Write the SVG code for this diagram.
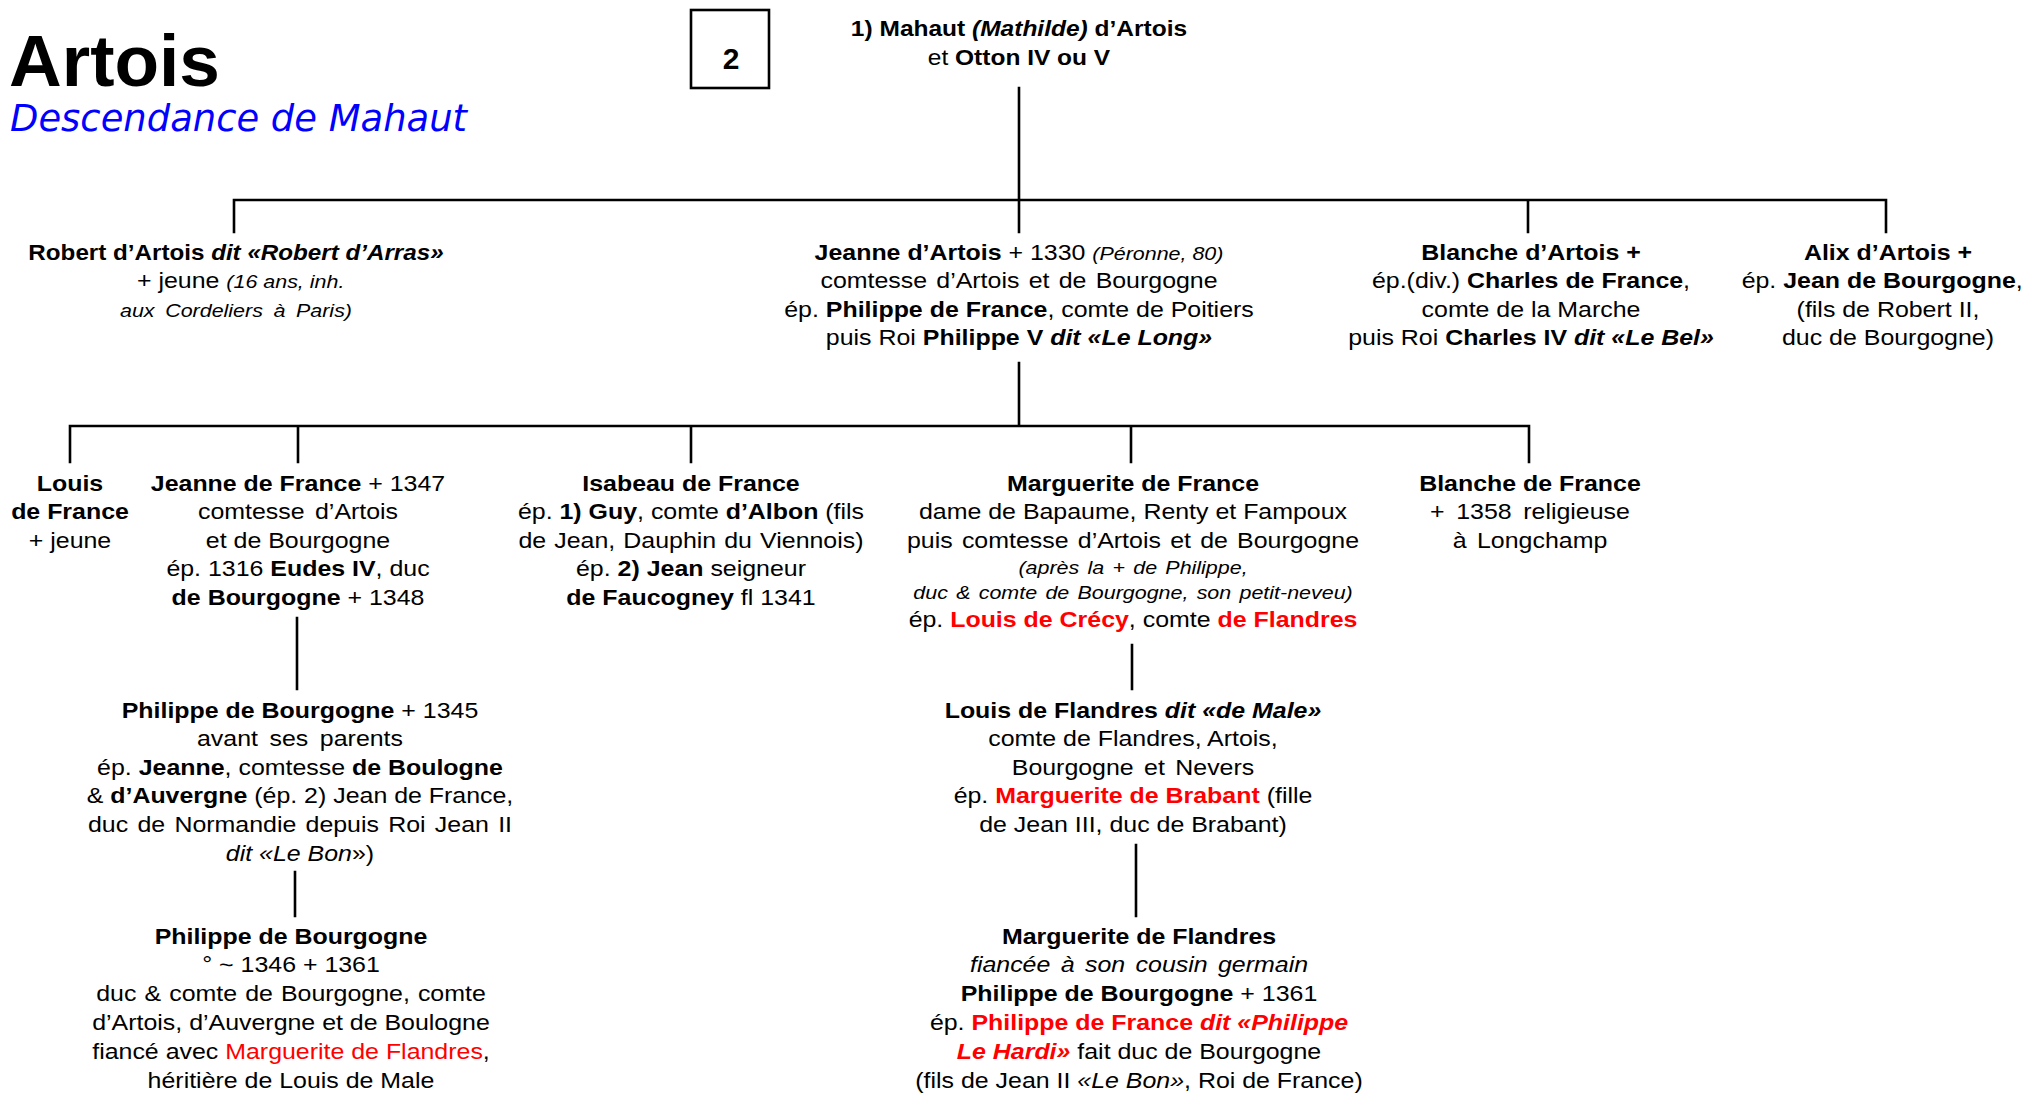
<svg xmlns="http://www.w3.org/2000/svg" width="2026" height="1093" viewBox="0 0 2026 1093">
<style>
text{font-family:"Liberation Sans",Arial,Helvetica,sans-serif;font-size:21.5px;fill:#000;text-anchor:middle}
.b{font-weight:bold}
.i{font-style:italic}
.s{font-size:18.5px}
.r{fill:#ff0000}
.ln{stroke:#000;stroke-width:2.6;fill:none;stroke-linecap:square}
.box{stroke:#000;stroke-width:2.6;fill:#fff}
</style>
<rect width="2026" height="1093" fill="#fff"/>

<g id="title">
<text x="9" y="86" class="b" style="font-size:73px;text-anchor:start">Artois</text>
<text x="10" y="131" class="i" style="font-family:'DejaVu Sans',Verdana,sans-serif;font-size:38px;fill:#0000ff;text-anchor:start" textLength="457" lengthAdjust="spacingAndGlyphs">Descendance de Mahaut</text>
</g>

<g id="page-number">
<rect class="box" x="691" y="10" width="78" height="78"/>
<text x="731" y="69" class="b" style="font-size:30px">2</text>
</g>

<g id="connectors">
<path class="ln" d="M1019,88V232M234,200H1886M234,200V232M1528,200V232M1886,200V232"/>
<path class="ln" d="M1019,363V426M70,426H1529M70,426V462M298,426V462M691,426V462M1131,426V462M1529,426V462"/>
<path class="ln" d="M297,618V689M295,872V916M1132,645V689M1136,845V916"/>
</g>

<g id="n-mahaut" transform="translate(1019,0) scale(1.14,1)">
<text x="0" y="36" class="b">1) Mahaut <tspan class="i">(Mathilde)</tspan> d’Artois</text>
<text x="0" y="65">et <tspan class="b">Otton IV ou V</tspan></text>
</g>

<g id="n-robert" transform="translate(236,0) scale(1.16,1)">
<text x="0" y="260" class="b" textLength="358" lengthAdjust="spacingAndGlyphs">Robert d’Artois <tspan class="i">dit «Robert d’Arras»</tspan></text>
<text x="4" y="288.5">+ jeune <tspan class="i s">(16 ans, inh.</tspan></text>
<text x="0" y="317" class="i s" style="word-spacing:4px">aux Cordeliers à Paris)</text>
</g>

<g id="n-jeanne-artois" transform="translate(1019,0) scale(1.16,1)">
<text x="0" y="260"><tspan class="b">Jeanne d’Artois</tspan> + 1330 <tspan class="i s">(Péronne, 80)</tspan></text>
<text x="0" y="288.5" style="word-spacing:2px">comtesse d’Artois et de Bourgogne</text>
<text x="0" y="317">ép. <tspan class="b">Philippe de France</tspan>, comte de Poitiers</text>
<text x="0" y="345.5">puis Roi <tspan class="b">Philippe V <tspan class="i">dit «Le Long»</tspan></tspan></text>
</g>

<g id="n-blanche-artois" transform="translate(1531,0) scale(1.16,1)">
<text x="0" y="260" class="b">Blanche d’Artois +</text>
<text x="0" y="288.5">ép.(div.) <tspan class="b">Charles de France</tspan>,</text>
<text x="0" y="317">comte de la Marche</text>
<text x="0" y="345.5">puis Roi <tspan class="b">Charles IV <tspan class="i">dit «Le Bel»</tspan></tspan></text>
</g>

<g id="n-alix" transform="translate(1888,0) scale(1.16,1)">
<text x="0" y="260" class="b">Alix d’Artois +</text>
<text x="-5" y="288.5">ép. <tspan class="b">Jean de Bourgogne</tspan>,</text>
<text x="0" y="317">(fils de Robert II,</text>
<text x="0" y="345.5">duc de Bourgogne)</text>
</g>

<g id="n-louis" transform="translate(70,0) scale(1.16,1)">
<text x="0" y="491" class="b">Louis</text>
<text x="0" y="519.5" class="b">de France</text>
<text x="0" y="548">+ jeune</text>
</g>

<g id="n-jeanne-france" transform="translate(298,0) scale(1.16,1)">
<text x="0" y="491"><tspan class="b">Jeanne de France</tspan> + 1347</text>
<text x="0" y="519.5" style="word-spacing:3px">comtesse d’Artois</text>
<text x="0" y="548">et de Bourgogne</text>
<text x="0" y="576.5">ép. 1316 <tspan class="b">Eudes IV</tspan>, duc</text>
<text x="0" y="605"><tspan class="b">de Bourgogne</tspan> + 1348</text>
</g>

<g id="n-isabeau" transform="translate(691,0) scale(1.16,1)">
<text x="0" y="491" class="b">Isabeau de France</text>
<text x="0" y="519.5">ép. <tspan class="b">1) Guy</tspan>, comte <tspan class="b">d’Albon</tspan> (fils</text>
<text x="0" y="548" style="word-spacing:1px">de Jean, Dauphin du Viennois)</text>
<text x="0" y="576.5">ép. <tspan class="b">2) Jean</tspan> seigneur</text>
<text x="0" y="605"><tspan class="b">de Faucogney</tspan> fl 1341</text>
</g>

<g id="n-marguerite-france" transform="translate(1133,0) scale(1.16,1)">
<text x="0" y="491" class="b">Marguerite de France</text>
<text x="0" y="519.5">dame de Bapaume, Renty et Fampoux</text>
<text x="0" y="548" style="word-spacing:2px">puis comtesse d’Artois et de Bourgogne</text>
<text x="0" y="574" class="i s" style="word-spacing:2px">(après la + de Philippe,</text>
<text x="0" y="599" class="i s" style="word-spacing:2px">duc &amp; comte de Bourgogne, son petit-neveu)</text>
<text x="0" y="627">ép. <tspan class="b r">Louis de Crécy</tspan>, comte <tspan class="b r">de Flandres</tspan></text>
</g>

<g id="n-blanche-france" transform="translate(1530,0) scale(1.16,1)">
<text x="0" y="491" class="b">Blanche de France</text>
<text x="0" y="519.5" style="word-spacing:4px">+ 1358 religieuse</text>
<text x="0" y="548" style="word-spacing:3px">à Longchamp</text>
</g>

<g id="n-philippe-1345" transform="translate(300,0) scale(1.16,1)">
<text x="0" y="718"><tspan class="b">Philippe de Bourgogne</tspan> + 1345</text>
<text x="0" y="746.5" style="word-spacing:4px">avant ses parents</text>
<text x="0" y="775">ép.  <tspan class="b">Jeanne</tspan>, comtesse <tspan class="b">de Boulogne</tspan></text>
<text x="0" y="803.5">&amp; <tspan class="b">d’Auvergne</tspan> (ép. 2) Jean de France,</text>
<text x="0" y="832" style="word-spacing:2px">duc de Normandie depuis Roi Jean II</text>
<text x="0" y="861"><tspan class="i">dit «Le Bon</tspan>»)</text>
</g>

<g id="n-philippe-1361" transform="translate(291,0) scale(1.16,1)">
<text x="0" y="944" class="b">Philippe de Bourgogne</text>
<text x="0" y="972.5">° ~ 1346 + 1361</text>
<text x="0" y="1001" style="word-spacing:1px">duc &amp; comte de Bourgogne, comte</text>
<text x="0" y="1030">d’Artois, d’Auvergne et de Boulogne</text>
<text x="0" y="1059">fiancé avec <tspan class="r">Marguerite de Flandres</tspan>,</text>
<text x="0" y="1088">héritière de Louis de Male</text>
</g>

<g id="n-louis-male" transform="translate(1133,0) scale(1.16,1)">
<text x="0" y="718" class="b">Louis de Flandres <tspan class="i">dit «de Male»</tspan></text>
<text x="0" y="746.5">comte de Flandres, Artois,</text>
<text x="0" y="775" style="word-spacing:3px">Bourgogne et Nevers</text>
<text x="0" y="803.5">ép. <tspan class="b r">Marguerite de Brabant</tspan> (fille</text>
<text x="0" y="832">de Jean III, duc de Brabant)</text>
</g>

<g id="n-marguerite-flandres" transform="translate(1139,0) scale(1.16,1)">
<text x="0" y="944" class="b">Marguerite de Flandres</text>
<text x="0" y="972.5" class="i" style="word-spacing:3px">fiancée à son cousin germain</text>
<text x="0" y="1001"><tspan class="b">Philippe de Bourgogne</tspan> + 1361</text>
<text x="0" y="1030">ép. <tspan class="b r">Philippe de France <tspan class="i">dit «Philippe</tspan></tspan></text>
<text x="0" y="1059"><tspan class="b i r">Le Hardi»</tspan> fait duc de Bourgogne</text>
<text x="0" y="1088">(fils de Jean II <tspan class="i">«Le Bon»</tspan>, Roi de France)</text>
</g>
</svg>
